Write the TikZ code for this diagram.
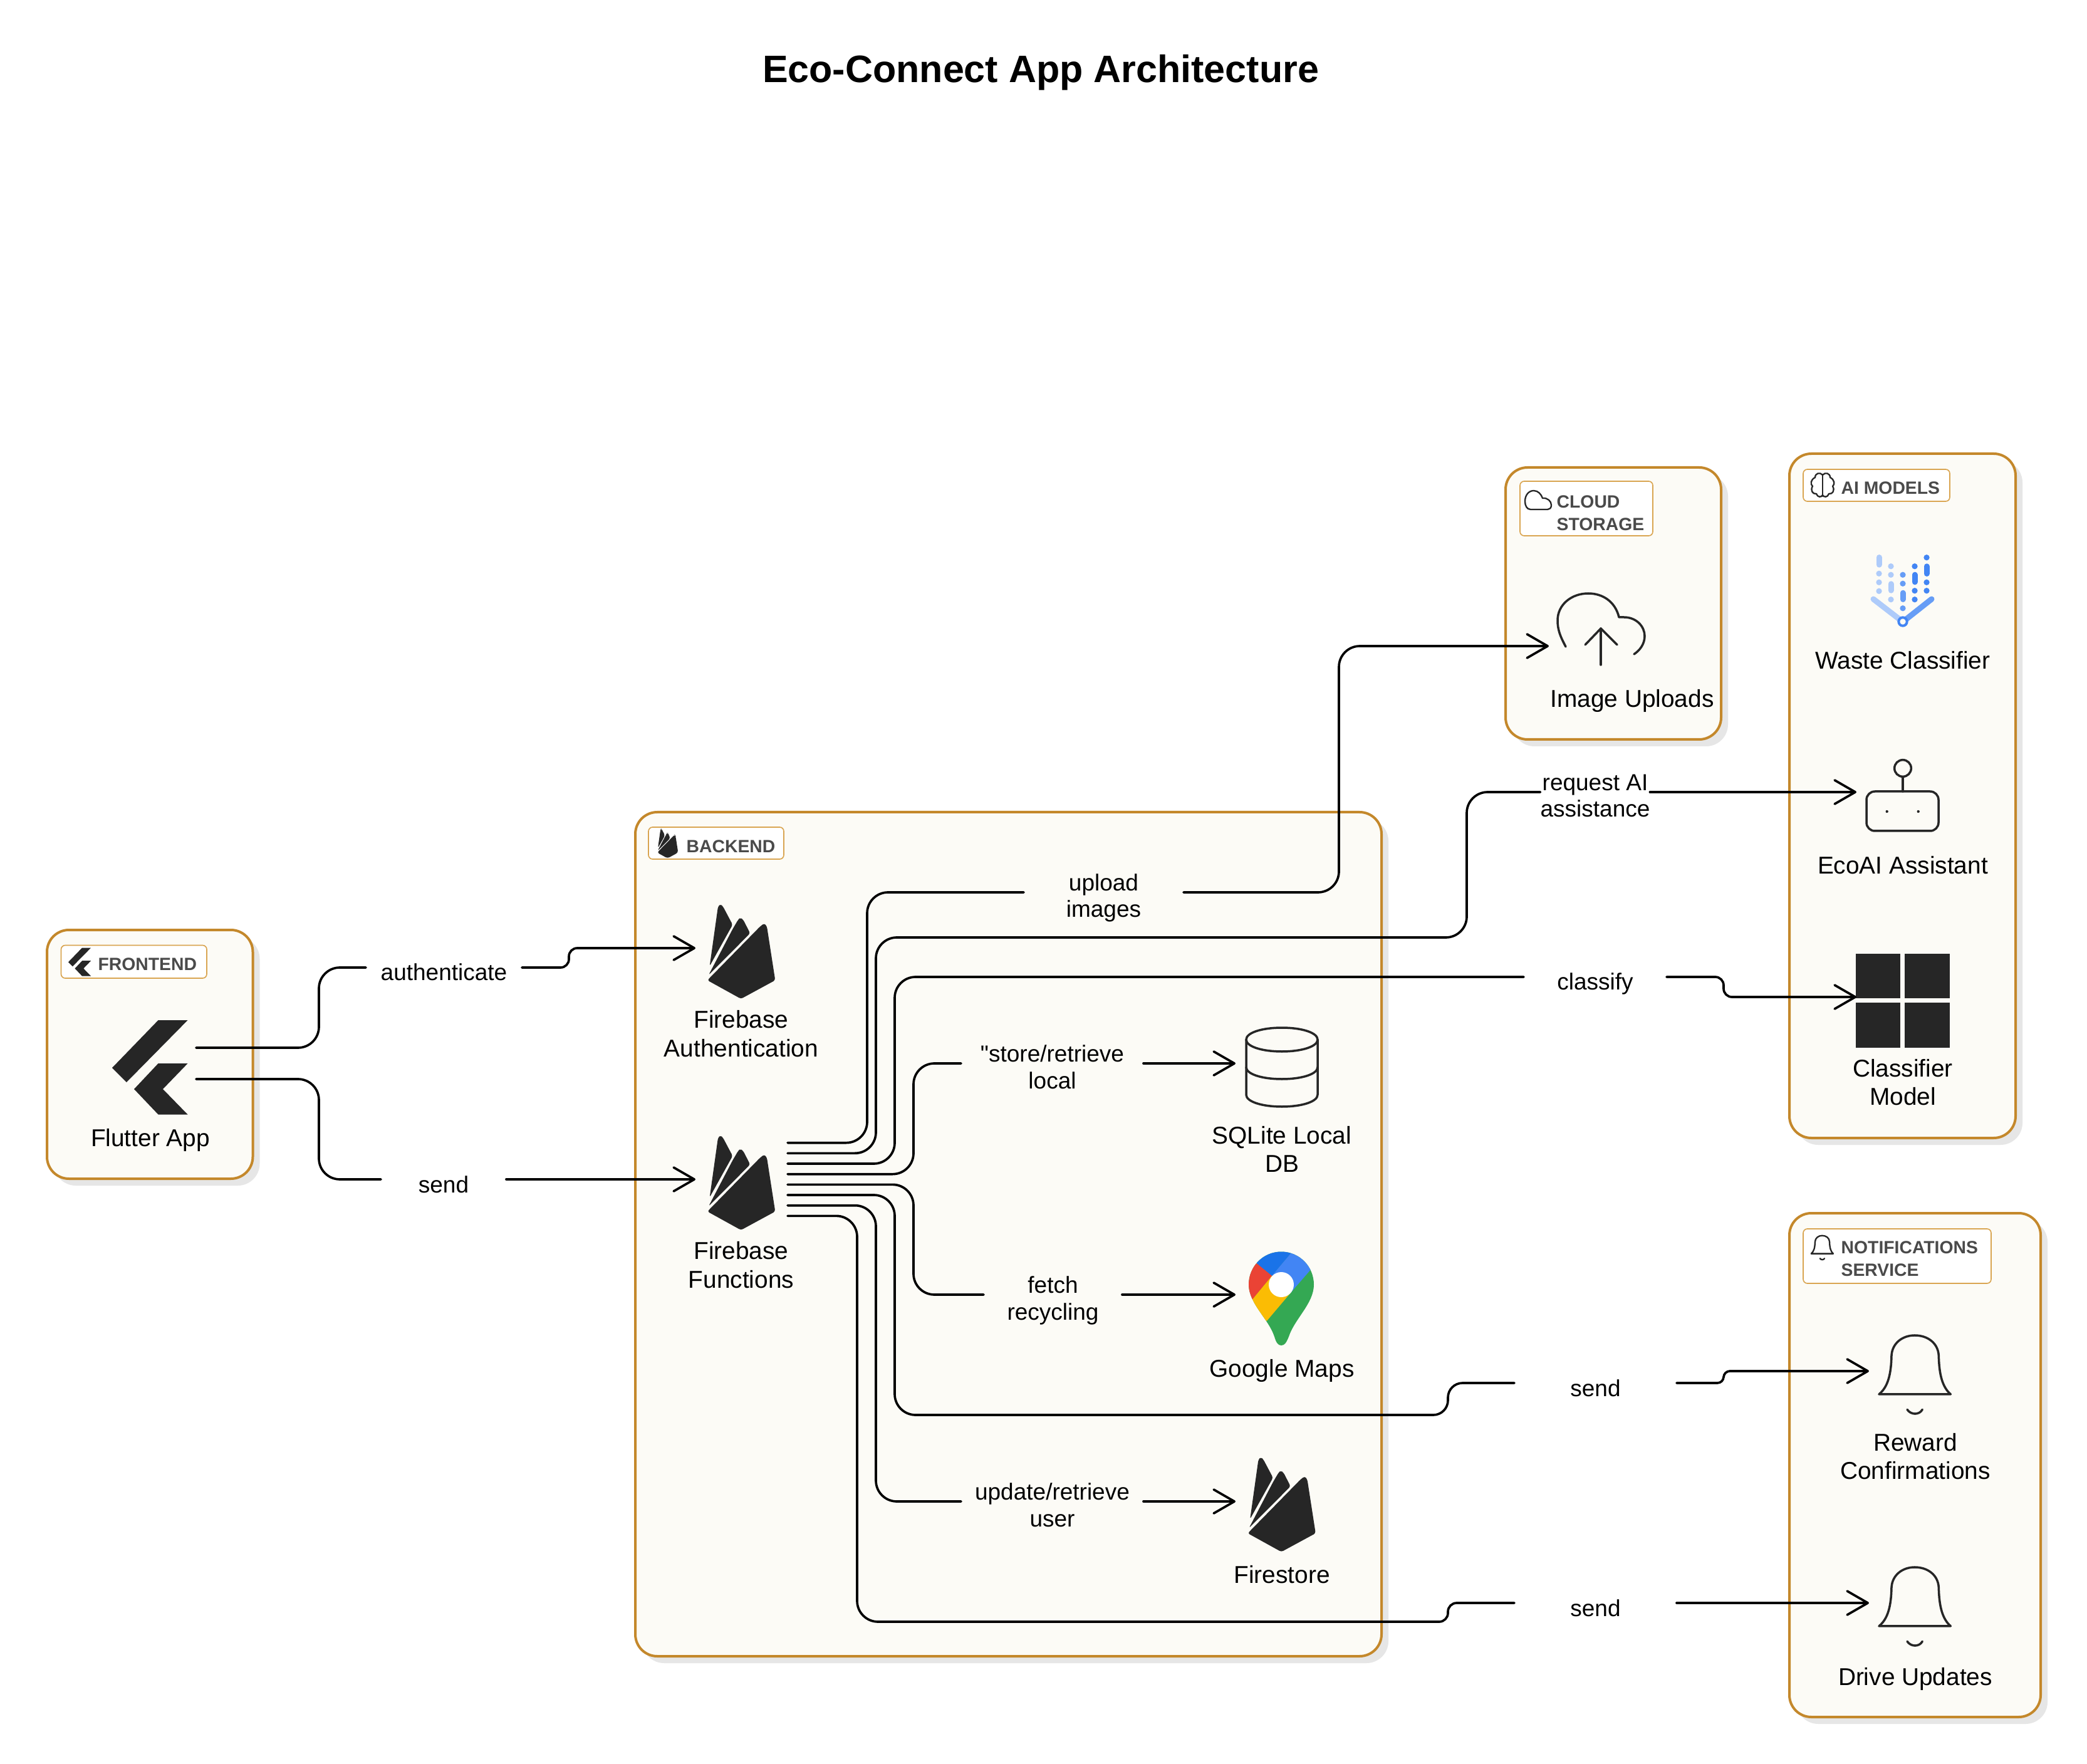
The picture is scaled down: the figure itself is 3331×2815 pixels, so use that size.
\documentclass[tikz,border=0pt]{standalone}
\usepackage{fontspec}
\setmainfont{Liberation Sans}
\newfontfamily\rawquote{Liberation Sans}
\usetikzlibrary{arrows.meta,fit}
\definecolor{panelfill}{HTML}{FCFBF6}
\definecolor{panelline}{HTML}{C4882B}
\definecolor{tagline}{HTML}{D9A551}
\definecolor{shadowc}{HTML}{E6E6E6}
\definecolor{ink}{HTML}{262626}
\definecolor{taginkc}{HTML}{4A4A4A}
\definecolor{vlight}{HTML}{AECBFA}
\definecolor{vmid}{HTML}{669DF6}
\definecolor{vblue}{HTML}{4285F4}
\definecolor{mgreen}{HTML}{34A853}
\definecolor{mdblue}{HTML}{1A73E8}
\definecolor{mred}{HTML}{EA4335}
\definecolor{myellow}{HTML}{FBBC04}
\tikzset{
  panel/.style={draw=panelline,line width=1.2pt,fill=panelfill,rounded corners=10.5pt,inner sep=0pt,outer sep=0pt},
  panelshadow/.style={fill=shadowc,rounded corners=10.5pt},
  tagbox/.style={draw=tagline,line width=.5pt,fill=white,rounded corners=2pt,inner sep=0pt,outer sep=0pt},
  tagtxt/.style={anchor=west,align=left,inner sep=0pt,text=taginkc,font=\fontsize{8.5}{10.8}\selectfont\bfseries},
  itemtxt/.style={align=center,inner sep=0pt,text=black,font=\fontsize{11.65}{13.6}\selectfont},
  elabel/.style={inner sep=0pt,outer sep=0pt,minimum height=0pt,text=black,font=\fontsize{11.1}{12.8}\selectfont},
  iconspot/.style={inner sep=0pt,outer sep=0pt,draw=none},
  conn/.style={draw=black,line width=1.1pt,line cap=round,rounded corners=10pt},
  arr/.style={conn,-{Straight Barb[length=9.9pt,width=11.4pt,round]}},
  glyph/.style={draw=ink,line width=1.05pt,line cap=round,line join=round},
  gthin/.style={draw=ink,line width=.7pt,line cap=round,line join=round},
}
\newcommand\onel[1]{\raisebox{-6.3pt}[0pt][0pt]{#1}}
\newcommand\twol[2]{\raisebox{.8pt}[0pt][0pt]{\begin{tabular}[t]{@{}c@{}}#1\\#2\end{tabular}}}
\newcommand\fireicon[3]{\begin{scope}[shift={(#1,#2)},scale=#3]
  \fill[ink,rounded corners=1pt] (68,335) -- (108,50) -- (120,38) -- (132,50) -- (178,137) -- cycle;
  \fill[ink,rounded corners=1pt] (63,378) -- (178,158) -- (205,112) -- (215,103) -- (228,112) -- (262,178) -- cycle;
  \fill[ink,rounded corners=1pt] (57,403) -- (310,145) -- (330,130) -- (342,145) -- (382,403) -- (218,492) -- cycle;
\end{scope}}
\newcommand\fluttericon[3]{\begin{scope}[shift={(#1,#2)},scale=#3]
  \fill[ink] (73.6,0) -- (120.6,0) -- (23,99) -- (0,76) -- cycle;
  \fill[ink] (73.6,69) -- (120.6,69) -- (81,110) -- (120.6,150.6) -- (73.6,150.6) -- (35,110) -- cycle;
\end{scope}}
\newcommand\bellicon[4]{\begin{scope}[shift={(#1,#2)},scale=#3]
  \draw[#4] (447,885) .. controls (490,850) and (505,790) .. (507,700) .. controls (510,640) and (560,603) .. (618,603) .. controls (680,603) and (730,640) .. (733,700) .. controls (735,790) and (750,850) .. (790,885) -- cycle;
  \draw[#4] (582,958) .. controls (600,985) and (640,985) .. (655,958);
\end{scope}}
\newcommand\mkpanel[5]{%
  \fill[panelshadow] (#2+11,#3+11) rectangle (#4+11,#5+11);
  \node[panel,fit={(#2,#3)(#4,#5)}] (#1) {};}
\newcommand\mktag[5]{\node[tagbox,fit={(#2,#3)(#4,#5)}] (#1) {};}
\newcommand\vpill[3]{\draw[line width=2.7pt,line cap=round] (#1,#2+4.5) -- (#1,#3-4.5);}
\newcommand\vdot[2]{\fill (#1,#2) circle [radius=1.4pt];}
\begin{document}
\begin{tikzpicture}[x=0.3pt,y=-0.3pt]
\fill[white] (0,0) rectangle (3331,2815);
\useasboundingbox (0,0) rectangle (3331,2815);

\node[inner sep=0pt,text=black,font=\fontsize{18.3}{22}\selectfont\bfseries] (title) at (1661,116) {Eco-Connect App Architecture};

% panels
\mkpanel{frontend}{75}{1484}{403.5}{1881}
\mkpanel{backend}{1014}{1296}{2205}{2643}
\mkpanel{cloudp}{2403}{746}{2747}{1180}
\mkpanel{aip}{2856}{724}{3217}{1816}
\mkpanel{notifp}{2856}{1936}{3257}{2740}

% tags
\mktag{tagf}{97.5}{1508.5}{330}{1561}
\fluttericon{109}{1512.5}{0.3}
\node[tagtxt] (tagft) at (156,1539) {FRONTEND};
\mktag{tagb}{1035}{1320}{1251}{1371}
\fireicon{1043}{1319}{0.103}
\node[tagtxt] (tagbt) at (1095,1351) {BACKEND};
\mktag{tagc}{2426}{768}{2638}{855}
\draw[gthin] (2443,813) .. controls (2437,813) and (2434,807) .. (2434,800) .. controls (2434,790) and (2440,783) .. (2448,783) .. controls (2455,783) and (2460,789) .. (2462,795) .. controls (2470,794) and (2476,800) .. (2476,806) .. controls (2476,811) and (2473,813) .. (2470,813) -- cycle;
\node[tagtxt] (tagct) at (2484,819) {CLOUD\\STORAGE};
\mktag{taga}{2878}{749}{3112}{800}
\draw[gthin] (2909,757) -- (2909,792);
\draw[gthin] (2909,758) .. controls (2905,753) and (2897,755) .. (2897,762) .. controls (2890,765) and (2889,773) .. (2893,776) .. controls (2889,782) and (2893,789) .. (2899,788) .. controls (2901,794) and (2907,794) .. (2909,790);
\draw[gthin] (2909,758) .. controls (2913,753) and (2921,755) .. (2921,762) .. controls (2928,765) and (2929,773) .. (2925,776) .. controls (2929,782) and (2925,789) .. (2919,788) .. controls (2917,794) and (2911,794) .. (2909,790);
\node[tagtxt] (tagat) at (2938,779) {AI MODELS};
\mktag{tagn}{2878}{1961}{3178}{2048}
\bellicon{2845}{1910}{0.1024}{gthin}
\node[tagtxt] (tagnt) at (2938,2009) {NOTIFICATIONS\\SERVICE};

% icon anchor nodes
\node[iconspot,fit={(179,1622)(313,1772)}] (flutter) {};
\node[iconspot,fit={(1110,1443)(1238,1583)}] (fbauth) {};
\node[iconspot,fit={(1110,1812)(1257,1952)}] (fbfun) {};
\node[iconspot,fit={(1972,1640)(2103,1754)}] (sqlite) {};
\node[iconspot,fit={(1972,1997)(2097,2135)}] (gmaps) {};
\node[iconspot,fit={(1972,2326)(2101,2466)}] (fstore) {};
\node[iconspot,fit={(2472,947)(2640,1115)}] (upload) {};
\node[iconspot,fit={(2963,1213)(3114,1315)}] (ecoai) {};
\node[iconspot,fit={(2963,1510)(3114,1672)}] (cmodel) {};
\node[iconspot,fit={(2983,2128)(3129,2248)}] (reward) {};
\node[iconspot,fit={(2983,2498)(3129,2618)}] (drive) {};

% icons
\fluttericon{179}{1628}{1}
\fireicon{1110}{1430}{0.3333}
\fireicon{1110}{1799}{0.3333}
\fireicon{1972.5}{2312.5}{0.3333}
% cylinder
\draw[glyph] (1989,1659) .. controls (1989,1648) and (2014,1640) .. (2046,1640) .. controls (2078,1640) and (2103,1648) .. (2103,1659) .. controls (2103,1670) and (2078,1678) .. (2046,1678) .. controls (2014,1678) and (1989,1670) .. (1989,1659) -- cycle;
\draw[glyph] (1989,1659) -- (1989,1747) .. controls (1989,1758) and (2014,1766) .. (2046,1766) .. controls (2078,1766) and (2103,1758) .. (2103,1747) -- (2103,1659);
\draw[glyph] (1989,1703) .. controls (1989,1714) and (2014,1722) .. (2046,1722) .. controls (2078,1722) and (2103,1714) .. (2103,1703);
% map pin
\begin{scope}
\clip (2045,1997.5) .. controls (2074,1997.5) and (2097,2021) .. (2097,2050) .. controls (2097,2080) and (2066,2105) .. (2057,2133) .. controls (2053,2143) and (2050,2147) .. (2045,2147) .. controls (2040,2147) and (2037,2143) .. (2034,2133) .. controls (2025,2105) and (1993,2080) .. (1993,2050) .. controls (1993,2021) and (2016,1997.5) .. (2045,1997.5) -- cycle;
\fill[mgreen] (1985,1990) rectangle (2105,2150);
\fill[mdblue] (2006,2016.4) -- (2030,2036) -- (2060,2000.4) -- (2060,1990) -- (2006,1990) -- cycle;
\fill[vblue] (2030,2036) -- (2060,2000.4) -- (2060,1990) -- (2105,1990) -- (2105,2011) -- (2060,2063) -- cycle;
\fill[mred] (2006,2016.4) -- (2030,2036) -- (1999,2073.6) -- (1985,2073.6) -- (1985,2016.4) -- cycle;
\fill[myellow] (1999,2073.6) -- (2030,2036) -- (2060,2063) -- (2022.3,2107.5) -- (2000,2110) -- (1985,2085) -- cycle;
\end{scope}
\fill[white] (2045,2050) circle [radius=6pt];
% cloud upload
\draw[glyph] (2499,1032) .. controls (2490,1015) and (2486,1005) .. (2486,990) .. controls (2486,965) and (2508,947) .. (2535,947) .. controls (2558,947) and (2578,960) .. (2584,985) -- (2592,985) .. controls (2612,985) and (2625,1000) .. (2625,1015) .. controls (2625,1028) and (2617,1038) .. (2608,1044);
\draw[glyph] (2555,1061) -- (2555,1003);
\draw[glyph] (2530,1029) -- (2555,1003) -- (2581,1029);
% vertex-style classifier icon
\begin{scope}[vlight,fill=vlight,draw=vlight]
\vpill{2999}{885}{905.7}\vdot{2999}{915.3}\vdot{2999}{929.3}\vdot{2999}{943.3}
\vdot{3018}{903.7}\vdot{3018}{917.3}\vpill{3018}{927.3}{946.7}\vdot{3018}{956.7}
\draw[line width=2.7pt,line cap=round] (2990,956) -- (3034,990);
\end{scope}
\begin{scope}[vmid,fill=vmid,draw=vmid]
\vdot{3037}{917.3}\vdot{3037}{931.3}\vpill{3037}{941.7}{961}\vdot{3037}{970.7}
\draw[line width=2.7pt,line cap=round] (3083,956) -- (3040,990);
\end{scope}
\begin{scope}[vblue,fill=vblue,draw=vblue]
\vdot{3056}{903.7}\vpill{3056}{912.7}{933.3}\vdot{3056}{942.7}\vdot{3056}{956.7}
\vdot{3075}{889.7}\vpill{3075}{899.3}{920}\vdot{3075}{929.3}\vdot{3075}{942.7}
\end{scope}
\draw[vblue,line width=1.2pt,fill=panelfill] (3037,992) circle [radius=2pt];
% ecoai
\draw[glyph] (3037,1226) circle [radius=4pt];
\draw[glyph] (3037,1240) -- (3037,1263);
\draw[glyph,rounded corners=4pt] (2979,1263) rectangle (3094,1326);
\fill[ink] (3011.7,1295) circle [radius=.65pt];
\fill[ink] (3061.7,1295) circle [radius=.65pt];
% classifier squares
\fill[ink] (2962,1522) rectangle (3033,1593);
\fill[ink] (3040,1522) rectangle (3112,1593);
\fill[ink] (2962,1600) rectangle (3033,1672);
\fill[ink] (3040,1600) rectangle (3112,1672);
% bells
\bellicon{2850}{1930}{0.3333}{glyph}
\bellicon{2850}{2300}{0.3333}{glyph}

% item texts
\node[itemtxt] (tflutter) at (240,1819) {Flutter App};
\node[itemtxt] (tfbauth) at (1183,1649.5) {Firebase\\Authentication};
\node[itemtxt] (tfbfun) at (1183,2018.5) {Firebase\\Functions};
\node[itemtxt] (tsqlite) at (2046,1834) {SQLite Local\\DB};
\node[itemtxt] (tgmaps) at (2046,2187) {Google Maps};
\node[itemtxt] (tfstore) at (2046,2513) {Firestore};
\node[itemtxt] (tupload) at (2605,1118) {Image Uploads};
\node[itemtxt] (twaste) at (3037,1054) {Waste Classifier};
\node[itemtxt] (tecoai) at (3037,1381) {EcoAI Assistant};
\node[itemtxt] (tmodel) at (3037,1727) {Classifier\\Model};
\node[itemtxt] (treward) at (3057,2324) {Reward\\Confirmations};
\node[itemtxt] (tdrive) at (3057,2679) {Drive Updates};

% connector labels (their width is the gap left in the line)
\node[elabel,minimum width=74.7pt] (lauth) at (708.5,1544) {\onel{authenticate}};
\node[elabel,minimum width=60pt] (lsend) at (708,1882) {\onel{send}};
\node[elabel,minimum width=76.5pt] (lupl) at (1761.5,1424) {\twol{upload}{images}};
\node[elabel,minimum width=49.2pt] (lreq) at (2546,1264) {\twol{request AI}{assistance}};
\node[elabel,minimum width=68.4pt] (lcls) at (2546,1559) {\onel{classify}};
\node[elabel,minimum width=87.3pt] (lsto) at (1679.5,1697) {\twol{{\rawquote\char34}store/retrieve}{local}};
\node[elabel,minimum width=66.3pt] (lfet) at (1680.5,2066) {\twol{fetch}{recycling}};
\node[elabel,minimum width=87.3pt] (lupd) at (1679.5,2396) {\twol{update/retrieve}{user}};
\node[elabel,minimum width=77.7pt] (lrew) at (2546.5,2207) {\onel{send}};
\node[elabel,minimum width=77.7pt] (ldrv) at (2546.5,2558) {\onel{send}};

% connectors
\draw[conn] ([yshift=7.5pt]flutter.east) -| (509,1544) -- (lauth.west);
\draw[arr,rounded corners=4pt] (lauth.east) -| (908,1513) -- (fbauth.west);
\draw[conn] ([yshift=-7.5pt]flutter.east) -| (509,1882) -- (lsend.west);
\draw[arr] (lsend.east) -- (fbfun.west);

\draw[conn] ([yshift=17.5pt]fbfun.east) -| (1384,1424) -- (lupl.west);
\draw[arr] (lupl.east) -| (2137,1031) -- (upload.west);
\draw[conn] ([yshift=12.5pt]fbfun.east) -| (1398,1496) -| (2341,1264) -- (lreq.west);
\draw[arr] (lreq.east) -- (ecoai.west);
\draw[conn] ([yshift=7.5pt]fbfun.east) -| (1428,1559) -- (lcls.west);
\draw[arr,rounded corners=4pt] (lcls.east) -| (2751,1591) -- (cmodel.west);
\draw[conn] ([yshift=2.5pt]fbfun.east) -| (1458,1697) -- (lsto.west);
\draw[arr] (lsto.east) -- (sqlite.west);
\draw[conn] ([yshift=-2.5pt]fbfun.east) -| (1458,2066) -- (lfet.west);
\draw[arr] (lfet.east) -- (gmaps.west);
\draw[conn] ([yshift=-7.5pt]fbfun.east) -| (1428,2258) [rounded corners=7pt] -| (2311,2207) -- (lrew.west);
\draw[arr,rounded corners=3pt] (lrew.east) -| (2751,2188) -- (reward.west);
\draw[conn] ([yshift=-12.5pt]fbfun.east) -| (1398,2396) -- (lupd.west);
\draw[arr] (lupd.east) -- (fstore.west);
\draw[conn] ([yshift=-17.5pt]fbfun.east) -| (1368,2588) [rounded corners=4.2pt] -| (2311,2558) -- (ldrv.west);
\draw[arr] (ldrv.east) -- (drive.west);
\end{tikzpicture}
\end{document}
